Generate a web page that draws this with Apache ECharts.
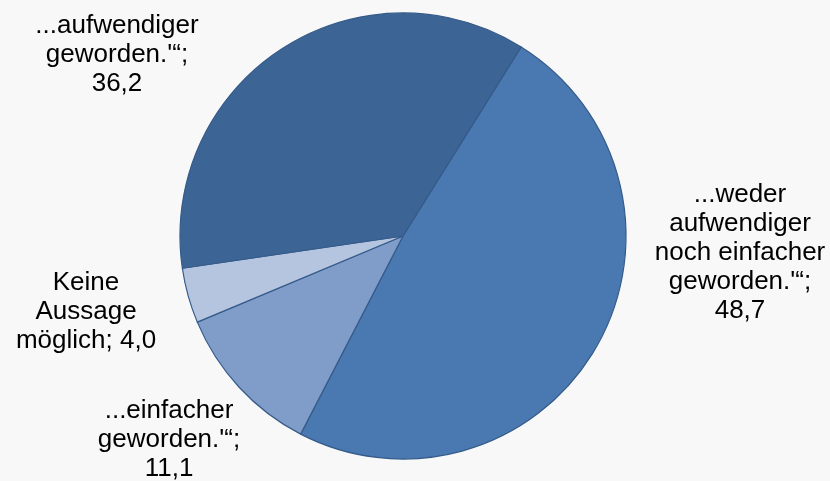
<!DOCTYPE html>
<html>
<head>
<meta charset="utf-8">
<script src="https://cdn.jsdelivr.net/npm/echarts@6/dist/echarts.min.js"></script>
<style>
html,body{margin:0;padding:0;background:#f8f8f8;}
#chart{width:830px;height:481px;}
</style>
</head>
<body>
<div id="chart"></div>
<script>
// Data (clockwise order from the start angle)
const categories = [
  "...weder\naufwendiger\nnoch einfacher\ngeworden.'“",
  "...einfacher\ngeworden.'“",
  "Keine\nAussage\nmöglich",
  "...aufwendiger\ngeworden.'“"
];
const values = [48.7, 11.1, 4.0, 36.2];

// Styling / layout (not data)
const colors = ['#4a78b0', '#7f9dc8', '#b5c4df', '#3c6494'];
const labelSep = ['\n', '\n', ' ', '\n'];
const labelPos = [[740, 253], [169, 440], [86, 312], [117, 55]];

const chart = echarts.init(document.getElementById('chart'), null, {renderer: 'canvas'});
chart.setOption({
  backgroundColor: '#f8f8f8',
  animation: false,
  series: [{
    type: 'pie',
    center: [403, 236],
    radius: 223,
    startAngle: 58,
    clockwise: true,
    avoidLabelOverlap: false,
    itemStyle: { borderColor: '#355b8a', borderWidth: 1.2 },
    label: {
      show: true,
      position: 'outside',
      fontFamily: 'Liberation Sans, Arial, sans-serif',
      fontSize: 26,
      lineHeight: 29,
      color: '#000',
      align: 'center',
      formatter: function (p) {
        return p.name + ';' + labelSep[p.dataIndex] + p.value.toFixed(1).replace('.', ',');
      }
    },
    labelLine: { show: false },
    labelLayout: function (params) {
      const pos = labelPos[params.dataIndex];
      return { x: pos[0], y: pos[1], align: 'center', verticalAlign: 'middle' };
    },
    emphasis: { disabled: true },
    data: categories.map((c, i) => ({
      name: c, value: values[i], itemStyle: { color: colors[i] }
    }))
  }]
});
</script>
</body>
</html>
